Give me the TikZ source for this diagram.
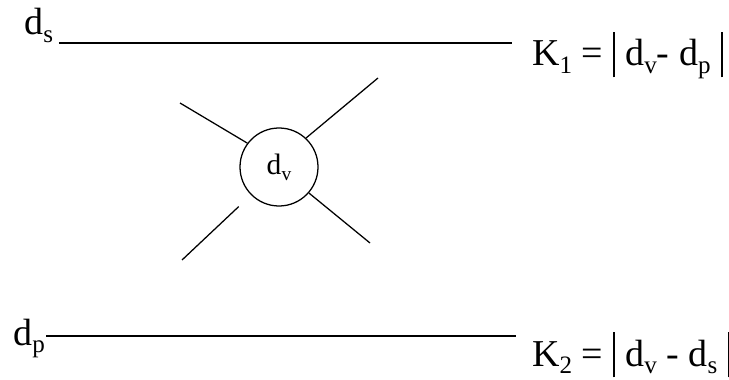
\documentclass[tikz,border=0pt]{standalone}
\usepackage{fontspec}
\setmainfont{Liberation Serif}
\usepackage{tikz}
\usetikzlibrary{positioning}

\newcommand{\absbar}{\rule[-0.3em]{0.06em}{1.2em}}
\newcommand{\lo}[1]{\raisebox{-0.2em}{\scalebox{0.66}{#1}}}
\tikzset{
  lbl/.style={inner sep=0pt, font=\fontsize{27}{30}\selectfont},
  vertex/.style={draw, circle, minimum size=78*0.025cm, inner sep=0pt, line width=0.9pt,
    font=\fontsize{21}{24}\selectfont},
  leg/.style={line width=0.9pt}
}

\begin{document}
\begin{tikzpicture}[x=0.025cm, y=-0.025cm]
            \useasboundingbox (0,0) rectangle (729,380);
            \node[lbl, anchor=base west] (ds) at (24,35) {d\lo{s}};
            \coordinate (sEnd) at (512,43);
            \draw[leg] ([xshift=4]ds.east |- sEnd) -- (sEnd);
            \node[lbl, anchor=base west] (k1) at (532,66) {K\lo{1} = \absbar\;d\lo{v}- d\lo{p}\;\absbar};
            \node[vertex] (dv) at (279,167) {d\lo{v}};
            \coordinate (ul) at (180,103);
            \coordinate (ur) at (378,78);
            \coordinate (ll) at (182,260);
            \coordinate (lr) at (370,243);
            \draw[leg] (dv.143) -- (ul);
            \draw[leg] (dv.47) -- (ur);
            \draw[leg, shorten <=12] (dv.225) -- (ll);
            \draw[leg] (dv.-41) -- (lr);
            \node[lbl, anchor=base west] (dp) at (13,345) {d\lo{p}};
            \coordinate (pEnd) at (516,336);
            \draw[leg] ([xshift=1]dp.east |- pEnd) -- (pEnd);
            \node[lbl, anchor=base west] (k2) at (532,366) {K\lo{2} = \absbar\;d\lo{v} - d\lo{s}\;\absbar};
        \end{tikzpicture}
\end{document}
